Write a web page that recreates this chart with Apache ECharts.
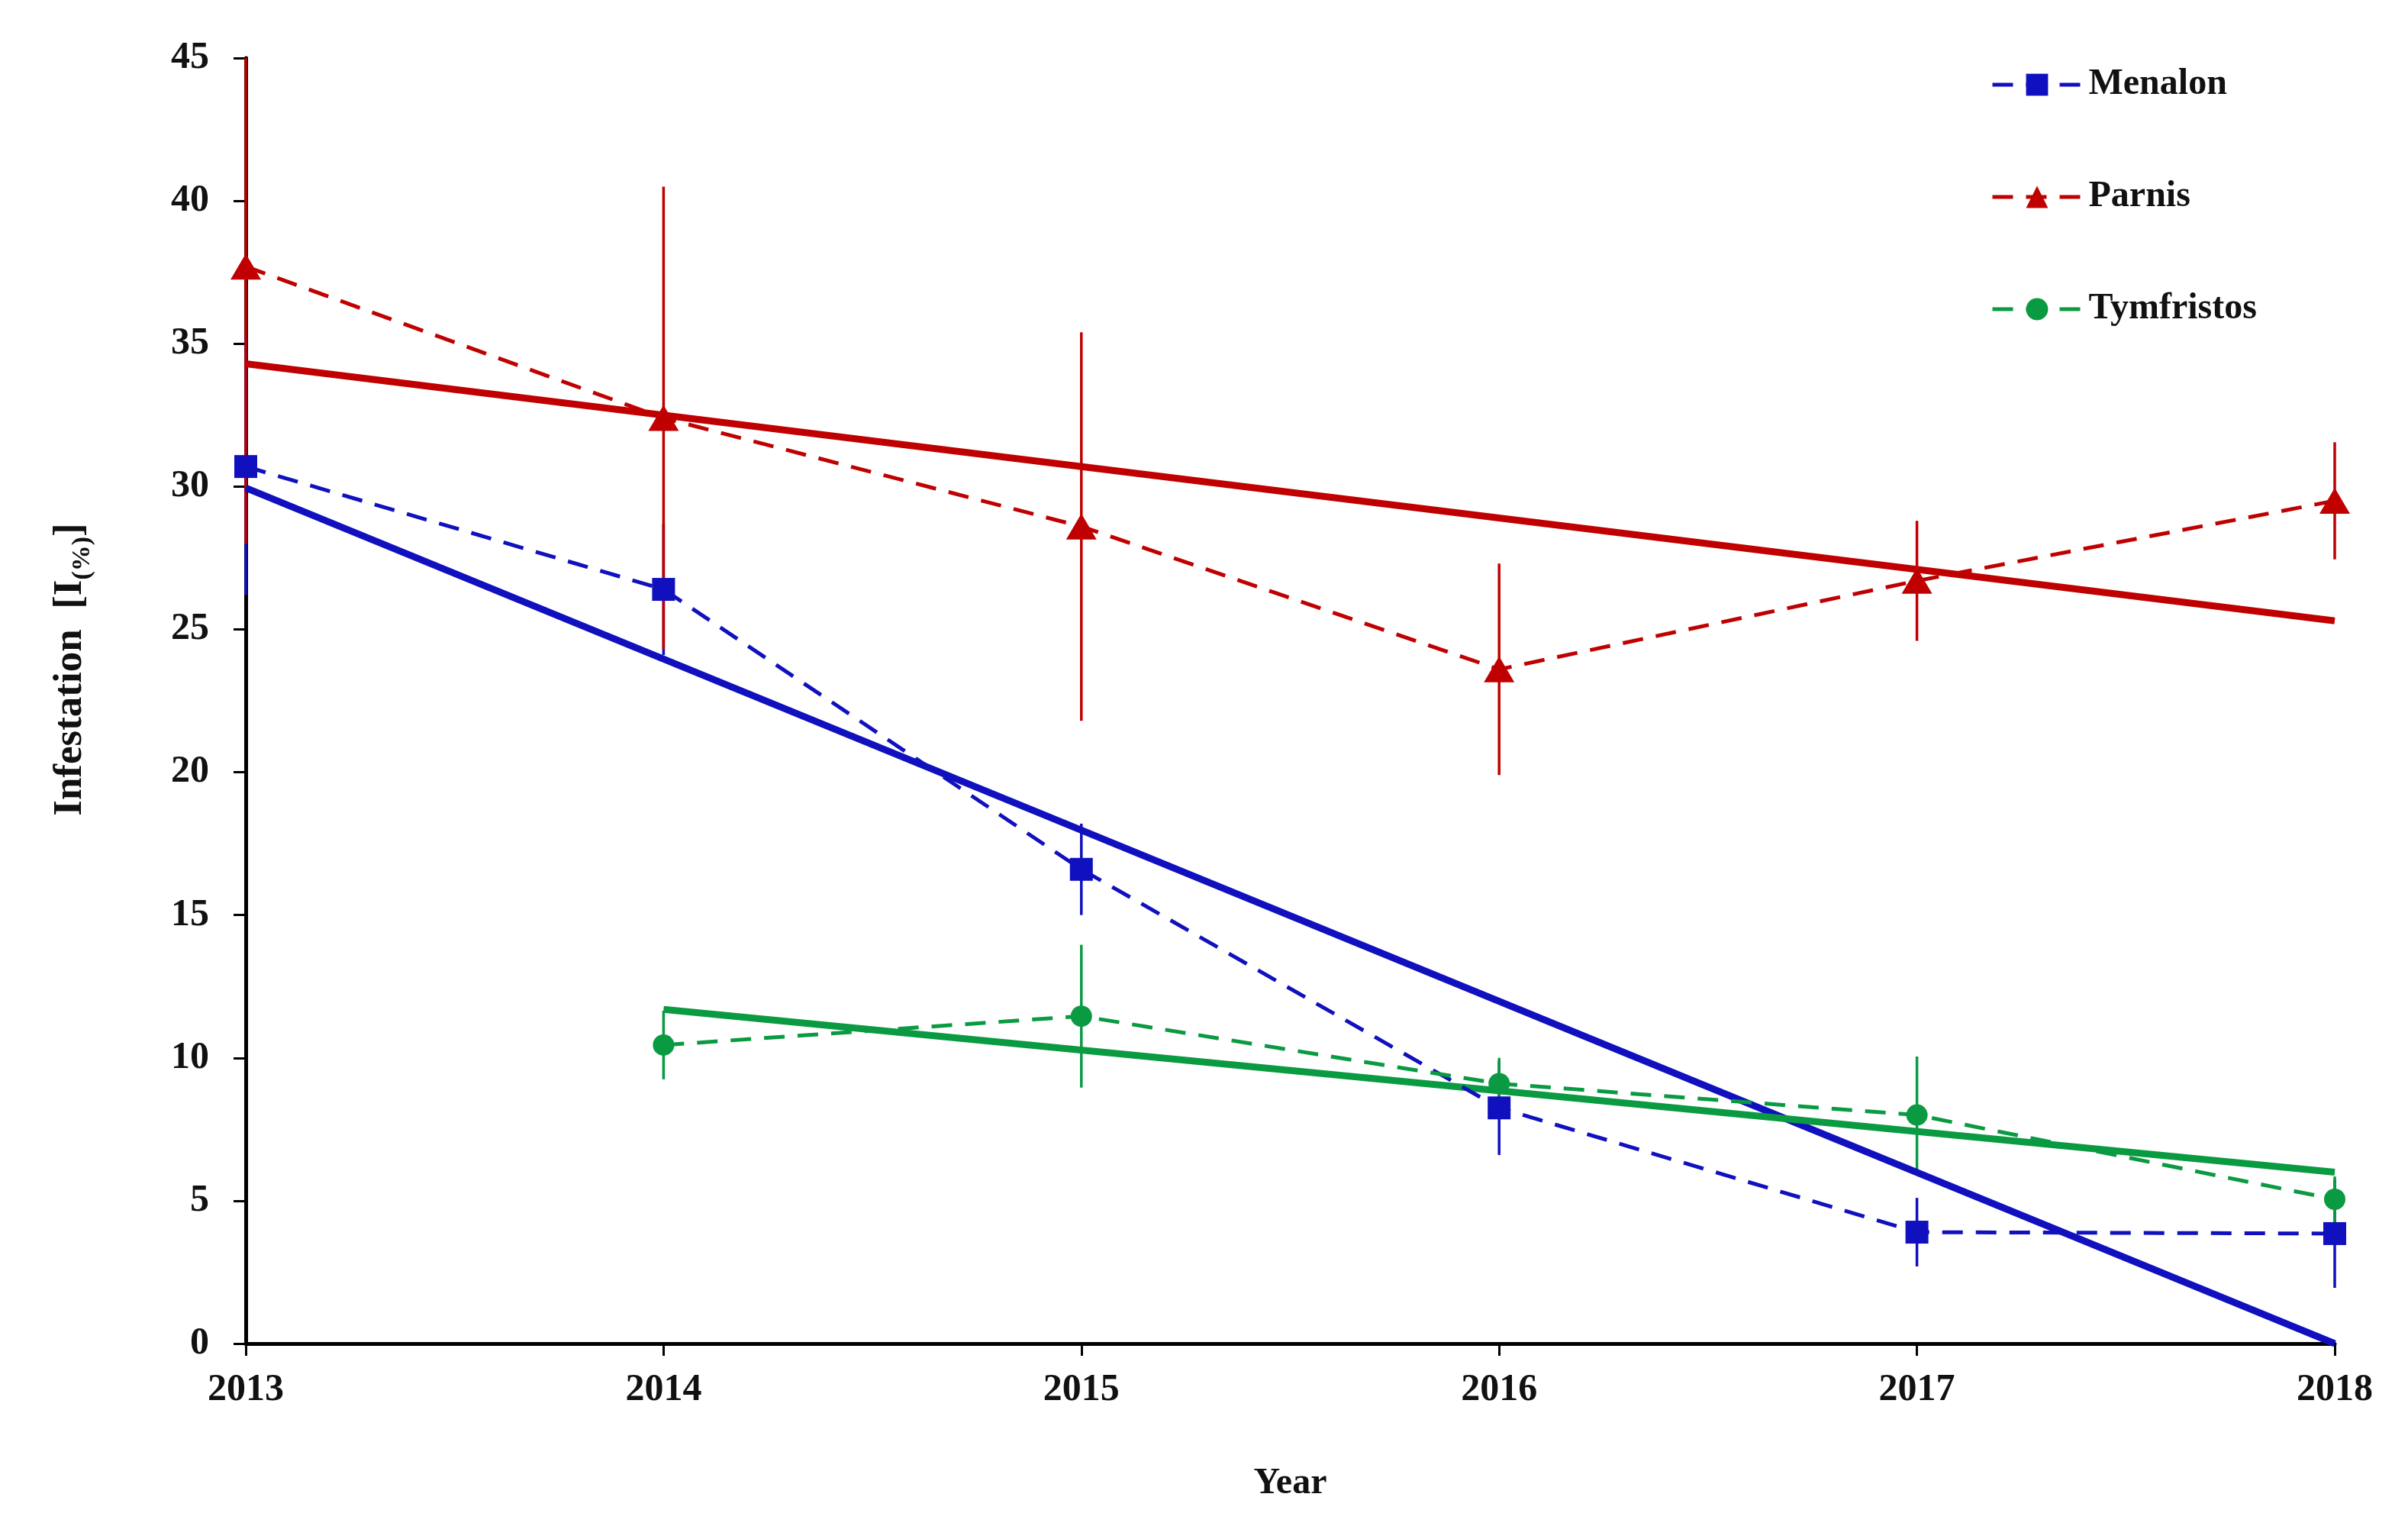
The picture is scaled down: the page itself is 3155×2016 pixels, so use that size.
<!DOCTYPE html>
<html>
<head>
<meta charset="utf-8">
<script src="https://cdn.jsdelivr.net/npm/echarts@6/dist/echarts.min.js"></script>
<style>
html,body{margin:0;padding:0;background:#fff;}
#chart{width:3155px;height:2016px;}
</style>
</head>
<body>
<div id="chart"></div>
<script>
// ---- data ----
const years = [2013, 2014, 2015, 2016, 2017, 2018];
const yTicks = [0, 5, 10, 15, 20, 25, 30, 35, 40, 45];

const menalon       = [30.7, 26.4, 16.6, 8.25, 3.9, 3.85];
const menalonErr    = [4.5, 2.3, 1.6, 1.65, 1.2, 1.9];
const parnis        = [37.7, 32.4, 28.6, 23.6, 26.7, 29.5];
const parnisErr     = [9.7, 8.1, 6.8, 3.7, 2.1, 2.05];
const tymfristos    = [null, 10.45, 11.46, 9.1, 8.0, 5.05];
const tymfristosErr = [null, 1.2, 2.5, 0.9, 2.05, 0.8];

// linear trend lines (end points)
const menalonTrendX    = [2013, 2018];
const menalonTrend     = [29.95, 0.0];
const parnisTrendX     = [2013, 2018];
const parnisTrend      = [34.3, 25.3];
const tymfristosTrendX = [2014, 2018];
const tymfristosTrend  = [11.7, 6.0];

const names = ['Menalon', 'Parnis', 'Tymfristos'];

// ---- styles ----
const BLUE = '#1010BE', RED = '#C00000', GREEN = '#0A9A42';
const FONT = "'Liberation Serif', 'Times New Roman', serif";

function pairs(xs, ys) {
  const out = [];
  for (let i = 0; i < xs.length; i++) if (ys[i] != null) out.push([xs[i], ys[i]]);
  return out;
}
function errData(xs, ys, es) {
  const out = [];
  for (let i = 0; i < xs.length; i++) if (ys[i] != null) out.push([xs[i], ys[i], es[i]]);
  return out;
}
function errSeries(name, color, data) {
  return {
    type: 'custom',
    name: name + ' error',
    z: 2,
    silent: true,
    data: data,
    encode: { x: 0, y: 1 },
    renderItem: function (params, api) {
      const x = api.value(0), y = api.value(1), e = api.value(2);
      const top = api.coord([x, y + e]);
      const bot = api.coord([x, y - e]);
      const cs = params.coordSys;
      const y1 = Math.max(top[1], cs.y);
      const y2 = Math.min(bot[1], cs.y + cs.height);
      return {
        type: 'line',
        shape: { x1: top[0], y1: y1, x2: bot[0], y2: y2 },
        style: { stroke: color, lineWidth: 3.5 }
      };
    }
  };
}
function dataSeries(name, color, symbol, size, data) {
  return {
    type: 'line',
    name: name,
    z: 4,
    data: data,
    symbol: symbol,
    symbolSize: size,
    showSymbol: true,
    itemStyle: { color: color },
    lineStyle: { color: color, width: 5, type: [27, 17] },
    connectNulls: false,
    animation: false
  };
}
function trendSeries(name, color, data) {
  return {
    type: 'line',
    name: name + ' trend',
    z: 3,
    data: data,
    symbol: 'none',
    lineStyle: { color: color, width: 9 },
    animation: false
  };
}

const chart = echarts.init(document.getElementById('chart'), null, { renderer: 'canvas' });

const option = {
  backgroundColor: '#ffffff',
  animation: false,
  grid: { left: 322, right: 96, top: 76, bottom: 256, containLabel: false },
  legend: {
    data: names,
    orient: 'vertical',
    left: 2603,
    top: 82,
    itemWidth: 117,
    itemHeight: 36,
    itemGap: 99,
    lineStyle: { width: 5, type: [27, 17] },
    textStyle: { fontFamily: FONT, fontSize: 48, fontWeight: 'bold', color: '#111', lineHeight: 48, padding: [0, 0, 0, 4] },
    selectedMode: false
  },
  xAxis: {
    type: 'value',
    min: 2013, max: 2018, interval: 1,
    name: 'Year',
    nameLocation: 'middle',
    nameGap: 160,
    nameTextStyle: { fontFamily: FONT, fontSize: 48, fontWeight: 'bold', color: '#111' },
    axisLine: { show: true, lineStyle: { color: '#000', width: 5 } },
    axisTick: { show: true, length: 16, lineStyle: { color: '#000', width: 3 } },
    axisLabel: { fontFamily: FONT, fontSize: 50, fontWeight: 'bold', color: '#111', margin: 36,
                 formatter: function (v) { return String(v); } },
    splitLine: { show: false }
  },
  yAxis: {
    type: 'value',
    min: yTicks[0], max: yTicks[yTicks.length - 1], interval: 5,
    axisLine: { show: true, lineStyle: { color: '#000', width: 5 } },
    axisTick: { show: true, length: 16, lineStyle: { color: '#000', width: 3 } },
    axisLabel: { fontFamily: FONT, fontSize: 50, fontWeight: 'bold', color: '#111', margin: 48 },
    splitLine: { show: false }
  },
  graphic: [{
    type: 'text',
    x: 92, y: 877,
    rotation: Math.PI / 2,
    style: {
      text: '{a|Infestation  [I}{b|(%)}{a|]}',
      align: 'center',
      verticalAlign: 'middle',
      rich: {
        a: { fontFamily: FONT, fontSize: 53, fontWeight: 'bold', fill: '#111', lineHeight: 66, verticalAlign: 'middle' },
        b: { fontFamily: FONT, fontSize: 34, fontWeight: 'bold', fill: '#111', lineHeight: 66, verticalAlign: 'bottom' }
      }
    }
  }],
  series: [
    errSeries(names[0], BLUE, errData(years, menalon, menalonErr)),
    errSeries(names[1], RED, errData(years, parnis, parnisErr)),
    errSeries(names[2], GREEN, errData(years, tymfristos, tymfristosErr)),
    trendSeries(names[0], BLUE, pairs(menalonTrendX, menalonTrend)),
    trendSeries(names[1], RED, pairs(parnisTrendX, parnisTrend)),
    trendSeries(names[2], GREEN, pairs(tymfristosTrendX, tymfristosTrend)),
    dataSeries(names[0], BLUE, 'rect', 30, pairs(years, menalon)),
    dataSeries(names[1], RED, 'triangle', [40, 34], pairs(years, parnis)),
    dataSeries(names[2], GREEN, 'circle', 28, pairs(years, tymfristos))
  ]
};
chart.setOption(option);
</script>
</body>
</html>
